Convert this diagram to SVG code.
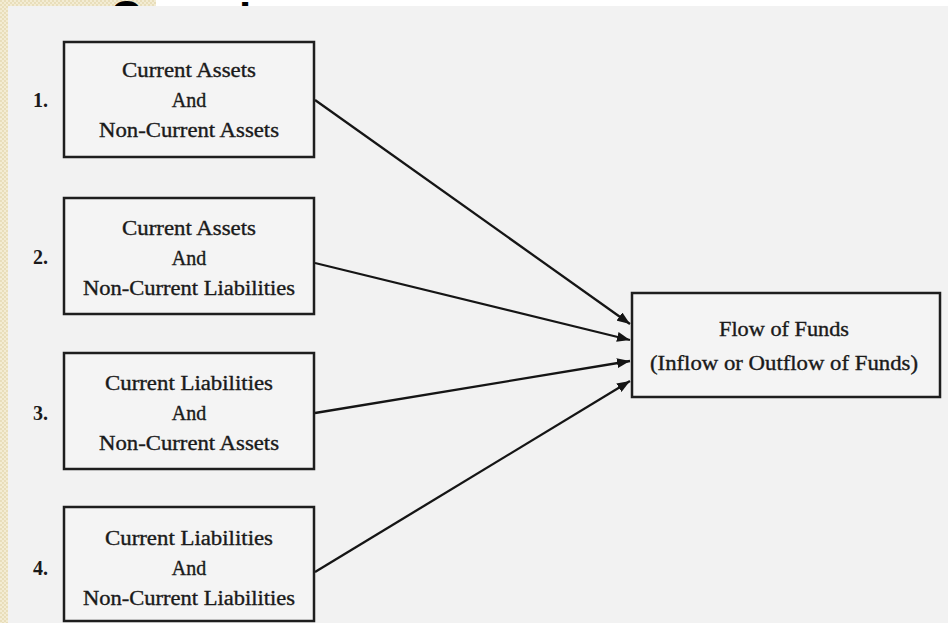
<svg xmlns="http://www.w3.org/2000/svg" width="948" height="623" viewBox="0 0 948 623">
  <defs>
    <pattern id="dots" width="4" height="4" patternUnits="userSpaceOnUse">
      <rect width="4" height="4" fill="#f3ecd3"/>
      <circle cx="1" cy="1" r="0.9" fill="#e4d8b0"/>
      <circle cx="3" cy="3" r="0.9" fill="#e4d8b0"/>
    </pattern>
    <marker id="head" viewBox="0 0 13 10" refX="13" refY="5" markerWidth="13" markerHeight="10" markerUnits="userSpaceOnUse" orient="auto">
      <path d="M0,0 L13,5 L0,10 Z" fill="#151515"/>
    </marker>
  </defs>
  <style>
    .box { fill: #f4f4f4; stroke: #1e1e1e; stroke-width: 2.5; }
    .lbl { font-family: "Liberation Serif", "Times New Roman", serif; font-size: 20px; fill: #1a1a1a; stroke: #1a1a1a; stroke-width: 0.35; text-anchor: middle; }
    .num { font-family: "Liberation Serif", "Times New Roman", serif; font-size: 20px; font-weight: bold; fill: #1a1a1a; }
    .edge { stroke: #151515; stroke-width: 2.3; fill: none; marker-end: url(#head); }
    .title { font-family: "Liberation Sans", Arial, sans-serif; font-size: 44px; font-weight: bold; fill: #000; }
  </style>

  <!-- page background with heading peeking above the figure -->
  <rect x="0" y="0" width="948" height="623" fill="#ffffff"/>
  <rect x="0" y="0" width="156" height="623" fill="url(#dots)"/>
  <text class="title" x="110" y="32">C</text>
  <text class="title" x="239" y="34">l</text>
  <!-- figure panel -->
  <rect x="8" y="6" width="940" height="617" fill="#f2f2f2"/>

  <g id="connectors">
    <line class="edge" x1="315" y1="100" x2="630" y2="324"/>
    <line class="edge" x1="315" y1="263" x2="630" y2="340"/>
    <line class="edge" x1="315" y1="413" x2="630" y2="361"/>
    <line class="edge" x1="315" y1="572" x2="630" y2="381"/>
  </g>

  <g id="node1">
    <text class="num" x="33" y="107">1.</text>
    <rect class="box" x="64" y="42" width="250" height="115"/>
    <text class="lbl" x="189" y="77" textLength="134" lengthAdjust="spacingAndGlyphs">Current Assets</text>
    <text class="lbl" x="189" y="107">And</text>
    <text class="lbl" x="189" y="137" textLength="180" lengthAdjust="spacingAndGlyphs">Non-Current Assets</text>
  </g>

  <g id="node2">
    <text class="num" x="33" y="264">2.</text>
    <rect class="box" x="64" y="198" width="250" height="116"/>
    <text class="lbl" x="189" y="235" textLength="134" lengthAdjust="spacingAndGlyphs">Current Assets</text>
    <text class="lbl" x="189" y="265">And</text>
    <text class="lbl" x="189" y="295" textLength="212" lengthAdjust="spacingAndGlyphs">Non-Current Liabilities</text>
  </g>

  <g id="node3">
    <text class="num" x="33" y="420">3.</text>
    <rect class="box" x="64" y="353" width="250" height="116"/>
    <text class="lbl" x="189" y="390" textLength="168" lengthAdjust="spacingAndGlyphs">Current Liabilities</text>
    <text class="lbl" x="189" y="420">And</text>
    <text class="lbl" x="189" y="450" textLength="180" lengthAdjust="spacingAndGlyphs">Non-Current Assets</text>
  </g>

  <g id="node4">
    <text class="num" x="33" y="575">4.</text>
    <rect class="box" x="64" y="507" width="250" height="114"/>
    <text class="lbl" x="189" y="545" textLength="168" lengthAdjust="spacingAndGlyphs">Current Liabilities</text>
    <text class="lbl" x="189" y="575">And</text>
    <text class="lbl" x="189" y="605" textLength="212" lengthAdjust="spacingAndGlyphs">Non-Current Liabilities</text>
  </g>

  <g id="flow">
    <rect class="box" x="632" y="293" width="308" height="104"/>
    <text class="lbl" x="784" y="336" textLength="130" lengthAdjust="spacingAndGlyphs">Flow of Funds</text>
    <text class="lbl" x="784" y="370" textLength="268" lengthAdjust="spacingAndGlyphs">(Inflow or Outflow of Funds)</text>
  </g>
</svg>
